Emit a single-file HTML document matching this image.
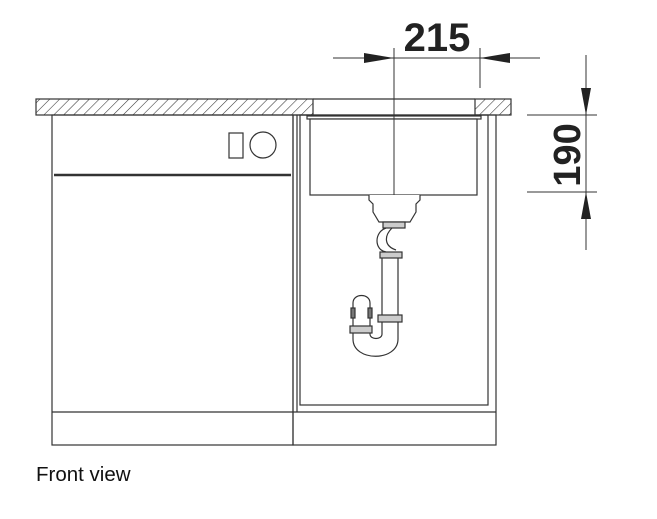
<!DOCTYPE html>
<html><head><style>body{margin:0;background:#fff}svg{display:block}</style></head><body>
<svg width="657" height="519" viewBox="0 0 657 519" xmlns="http://www.w3.org/2000/svg">
<defs>
<pattern id="h" patternUnits="userSpaceOnUse" width="7" height="7" patternTransform="rotate(45)">
<rect width="7" height="7" fill="#fff"/><line x1="0" y1="0" x2="0" y2="7" stroke="#333" stroke-width="1.1"/>
</pattern>
</defs>
<g fill="none" stroke="#333" stroke-width="1.2">
<rect x="36" y="99" width="277" height="16" fill="url(#h)"/>
<rect x="475" y="99" width="36" height="16" fill="url(#h)"/>
<line x1="313" y1="99" x2="475" y2="99"/>
<rect x="52" y="115" width="241" height="330"/>
<line x1="52" y1="412" x2="293" y2="412"/>
<line x1="54" y1="175" x2="291" y2="175" stroke-width="2.5"/>
<rect x="229" y="133" width="14" height="25"/>
<circle cx="263" cy="145" r="13"/>
<rect x="293" y="115" width="203" height="330"/>
<line x1="297" y1="115" x2="297" y2="412"/>
<rect x="300" y="115" width="188" height="290"/>
<line x1="293" y1="412" x2="496" y2="412"/>
<rect x="307" y="116" width="174" height="3" fill="#fff"/>
<rect x="310" y="119" width="167" height="76" fill="#fff"/>
<line x1="394" y1="48" x2="394" y2="195" stroke-width="1"/>
<path d="M369 195 L369 200 L373 204 L373 212 L379 222 L410 222 L416 212 L416 204 L420 200 L420 195" fill="#fff"/>
<rect x="383" y="222" width="22" height="6" fill="#ccc"/>
<path d="M386 228 C374 232 374 250 386 252 M392 228 C384 236 384 246 396 250" />
<rect x="380" y="252" width="22" height="6" fill="#ccc"/>
<line x1="382" y1="258" x2="382" y2="317"/>
<line x1="398" y1="258" x2="398" y2="317"/>
<rect x="378" y="315" width="24" height="7" fill="#ccc"/>
<path d="M382 322 L382 334 C382 340 370 340 370 334 L370 332 M398 322 L398 339 C398 362 353 362 353 339 L353 332"/>
<rect x="350" y="326" width="22" height="7" fill="#ccc"/>
<path d="M353 326 L353 303 C353 293 370 293 370 303 L370 326"/>
<rect x="351" y="308" width="4" height="10" fill="#777"/>
<rect x="368" y="308" width="4" height="10" fill="#777"/>
<line x1="333" y1="58" x2="540" y2="58" stroke-width="1"/>
<line x1="480" y1="48" x2="480" y2="88" stroke-width="1"/>
<line x1="586" y1="55" x2="586" y2="250" stroke-width="1"/>
<line x1="527" y1="115" x2="597" y2="115" stroke-width="1"/>
<line x1="527" y1="192" x2="597" y2="192" stroke-width="1"/>
</g>
<g fill="#222">
<polygon points="394,58 364,53 364,63"/>
<polygon points="480,58 510,53 510,63"/>
<polygon points="586,115 581,88 591,88"/>
<polygon points="586,192 581,219 591,219"/>
</g>
<text x="437" y="51" text-anchor="middle" font-family="Liberation Sans, sans-serif" font-weight="bold" font-size="40" fill="#222">215</text>
<text transform="translate(580,155) rotate(-90)" text-anchor="middle" font-family="Liberation Sans, sans-serif" font-weight="bold" font-size="38" fill="#222">190</text>
<text x="36" y="481" font-family="Liberation Sans, sans-serif" font-size="20.5" fill="#111">Front view</text>
</svg>
</body></html>
